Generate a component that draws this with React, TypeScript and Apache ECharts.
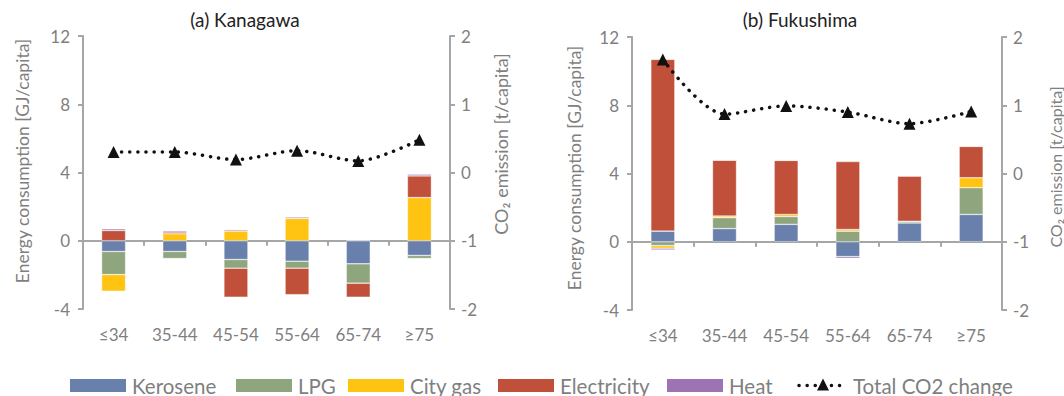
import React, { useEffect, useRef } from "react";
import * as echarts from "echarts";

const categories = ["≤34", "35-44", "45-54", "55-64", "65-74", "≥75"];

// (a) Kanagawa [GJ/capita]
const kanaKerosene = [-0.63, -0.63, -1.1, -1.2, -1.35, -0.86];
const kanaLPG = [-1.35, -0.41, -0.51, -0.41, -1.14, -0.18];
const kanaCityGas = [-0.98, 0.41, 0.57, 1.31, 0, 2.53];
const kanaElectricity = [0.6, 0.1, -1.7, -1.55, -0.82, 1.27];
const kanaHeat = [0.1, 0.08, 0.08, 0.08, 0.04, 0.1];
// [t/capita]
const kanaCO2 = [0.3, 0.3, 0.19, 0.32, 0.17, 0.48];

// (b) Fukushima [GJ/capita]
const fukuKerosene = [0.62, 0.77, 1.02, -0.87, 1.1, 1.6];
const fukuLPG = [-0.23, 0.64, 0.46, 0.62, 0.1, 1.57];
const fukuCityGas = [-0.15, 0.1, 0.12, 0.1, 0, 0.58];
const fukuElectricity = [10.07, 3.27, 3.17, 3.98, 2.65, 1.84];
const fukuHeat = [-0.1, 0, 0, -0.1, 0, 0];
// [t/capita]
const fukuCO2 = [1.67, 0.87, 0.99, 0.9, 0.73, 0.91];

const energyAxis = { min: -4, max: 12, interval: 4 };
const co2Axis = { min: -2, max: 2, interval: 1 };

const seriesNames = ["Kerosene", "LPG", "City gas", "Electricity", "Heat"];
const lineName = "Total CO2 change";
const titles = ["(a) Kanagawa", "(b) Fukushima"];
const energyName = "Energy consumption [GJ/capita]";
const co2Name = "CO₂ emission [t/capita]";

const COLORS = ["#6880AB", "#8FA57E", "#FFC312", "#C1503A", "#9E73B4"];
const FONT = "Lato, 'Noto Sans', sans-serif";
const GRAY = "#7F7F7F";
const AXIS = "#A6A6A6";

export default function App() {
  const ref = useRef<HTMLDivElement>(null);

  useEffect(() => {
    const chart = echarts.init(ref.current!, null, { renderer: "svg" });

    const grids = [
      { left: 83, top: 36, width: 367, height: 273 },
      { left: 632, top: 37, width: 370, height: 273 },
    ];

    const xAxis: any[] = [];
    const yAxis: any[] = [];
    [0, 1].forEach((g) => {
      xAxis.push({
        type: "category",
        gridIndex: g,
        data: categories,
        position: "bottom",
        axisLine: { show: false, onZero: false },
        axisTick: { show: false },
        axisLabel: { color: GRAY, fontSize: 17, fontFamily: FONT, margin: 17 },
      });
      xAxis.push({
        type: "category",
        gridIndex: g,
        data: categories,
        position: "bottom",
        axisLine: {
          show: true,
          onZero: true,
          onZeroAxisIndex: g * 2,
          lineStyle: { color: AXIS, width: 2 },
        },
        axisTick: { show: true, length: 5, lineStyle: { color: AXIS, width: 2 } },
        axisLabel: { show: false },
      });
      yAxis.push({
        type: "value",
        gridIndex: g,
        position: "left",
        ...energyAxis,
        splitLine: { show: false },
        axisLine: { show: true, lineStyle: { color: AXIS, width: 2 } },
        axisTick: { show: true, length: 5, lineStyle: { color: AXIS, width: 2 } },
        axisLabel: { color: GRAY, fontSize: 17, fontFamily: FONT, margin: 13 },
      });
      yAxis.push({
        type: "value",
        gridIndex: g,
        position: "right",
        ...co2Axis,
        splitLine: { show: false },
        axisLine: { show: true, lineStyle: { color: AXIS, width: 2 } },
        axisTick: { show: true, length: 5, lineStyle: { color: AXIS, width: 2 } },
        axisLabel: { color: GRAY, fontSize: 17, fontFamily: FONT, margin: 11 },
      });
    });

    const barData = [
      [kanaKerosene, kanaLPG, kanaCityGas, kanaElectricity, kanaHeat],
      [fukuKerosene, fukuLPG, fukuCityGas, fukuElectricity, fukuHeat],
    ];
    const lineData = [kanaCO2, fukuCO2];

    const series: any[] = [];
    [0, 1].forEach((g) => {
      seriesNames.forEach((name, i) => {
        series.push({
          type: "bar",
          name,
          data: barData[g][i],
          stack: "energy" + g,
          xAxisIndex: g * 2,
          yAxisIndex: g * 2,
          barWidth: 24,
          itemStyle: {
            color: COLORS[i],
            borderColor: "rgba(255,255,255,0.6)",
            borderWidth: 0.6,
          },
          emphasis: { disabled: true },
        });
      });
      series.push({
        type: "line",
        name: lineName,
        data: lineData[g],
        xAxisIndex: g * 2,
        yAxisIndex: g * 2 + 1,
        smooth: 0.3,
        symbol: "triangle",
        symbolSize: 12,
        itemStyle: { color: "#111" },
        lineStyle: { color: "#111", width: 3.5, type: [0.1, 8], cap: "round" },
        z: 5,
        emphasis: { disabled: true },
      });
    });

    const textStyle = (size: number, color: string, align = "center") => ({
      fill: color,
      fontSize: size,
      fontFamily: FONT,
      align,
      verticalAlign: "middle",
    });

    // legend drawn as graphic (swatch + label)
    const legendLefts = [70, 236, 348, 498, 667];
    const LEG_Y = 379;
    const legendGraphic: any[] = [];
    seriesNames.forEach((n, i) => {
      legendGraphic.push({
        type: "rect",
        shape: { x: legendLefts[i], y: LEG_Y, width: 56, height: 13 },
        style: { fill: COLORS[i] },
      });
      legendGraphic.push({
        type: "text",
        x: legendLefts[i] + 62,
        y: LEG_Y + 6.5,
        style: { text: n, ...textStyle(20.5, GRAY, "left") },
      });
    });
    const lx = 797;
    const ly = LEG_Y + 6.5;
    legendGraphic.push({
      type: "line",
      shape: { x1: lx + 2, y1: ly, x2: lx + 50, y2: ly },
      style: { stroke: "#111", lineWidth: 3.5, lineDash: [0.1, 8], lineCap: "round" },
    });
    legendGraphic.push({
      type: "polygon",
      shape: { points: [[lx + 26, ly - 7], [lx + 32, ly + 5], [lx + 20, ly + 5]] },
      style: { fill: "#111" },
    });
    legendGraphic.push({
      type: "text",
      x: lx + 56,
      y: ly,
      style: { text: lineName, ...textStyle(20.5, GRAY, "left") },
    });

    const graphic: any[] = [
      { type: "text", x: 245, y: 19, style: { text: titles[0], ...textStyle(19, "#222") } },
      { type: "text", x: 800, y: 19, style: { text: titles[1], ...textStyle(19, "#222") } },
      { type: "text", x: 22, y: 161, rotation: Math.PI / 2, style: { text: energyName, ...textStyle(17.5, GRAY) } },
      { type: "text", x: 501, y: 144, rotation: Math.PI / 2, style: { text: co2Name, ...textStyle(18, GRAY) } },
      { type: "text", x: 574, y: 168, rotation: Math.PI / 2, style: { text: energyName, ...textStyle(17.5, GRAY) } },
      { type: "text", x: 1055, y: 167, rotation: Math.PI / 2, style: { text: co2Name, ...textStyle(16, GRAY) } },
      ...legendGraphic,
    ];

    chart.setOption({
      animation: false,
      textStyle: { fontFamily: FONT },
      grid: grids,
      xAxis,
      yAxis,
      series,
      graphic,
    });

    return () => chart.dispose();
  }, []);

  return (
    <div
      ref={ref}
      style={{ position: "fixed", left: 0, top: 0, width: 1064, height: 396, background: "#fff" }}
    />
  );
}
